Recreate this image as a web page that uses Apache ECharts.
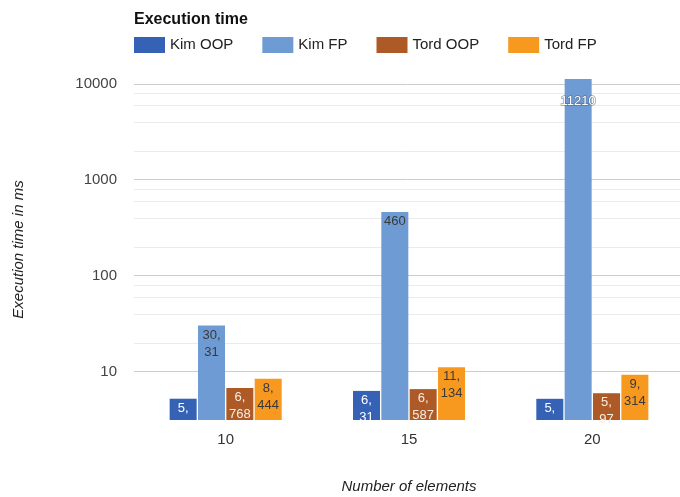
<!DOCTYPE html>
<html>
<head>
<meta charset="utf-8">
<script src="https://cdn.jsdelivr.net/npm/echarts@6/dist/echarts.min.js"></script>
<style>html,body{margin:0;padding:0;background:#fff;}#c{width:680px;height:497px;}</style>
</head>
<body>
<div id="c"></div>
<script>
const categories = ['10', '15', '20'];
const seriesNames = ['Kim OOP', 'Kim FP', 'Tord OOP', 'Tord FP'];
const kimOOP = [5.232, 6.31, 5.221];
const kimFP = [30.31, 460, 11210];
const tordOOP = [6.768, 6.587, 5.97];
const tordFP = [8.444, 11.134, 9.314];
const majorGrid = [10, 100, 1000, 10000];
const minorGrid = [20, 40, 60, 80, 200, 400, 600, 800, 2000, 4000, 6000, 8000];

const colors = ['#3562b4', '#6e9bd3', '#ad5a26', '#f7991f'];
const labelColors = ['#ffffff', '#3a3a3a', '#f6ece4', '#3a3a3a'];
const FONT = '"Liberation Sans", Arial, sans-serif';

const fmt = p => String(p.value).replace('.', ',\n');

const values = [kimOOP, kimFP, tordOOP, tordFP];
const gridLines = majorGrid.map(v => ({ yAxis: v, lineStyle: { color: '#cccccc', width: 1, type: 'solid' } }))
  .concat(minorGrid.map(v => ({ yAxis: v, lineStyle: { color: '#ebebeb', width: 1, type: 'solid' } })));

const series = values.map((arr, si) => {
  const s = {
    name: seriesNames[si],
    type: 'bar',
    barWidth: 27,
    barGap: '5%',
    itemStyle: { color: colors[si] },
    label: {
      show: true,
      position: 'insideTop',
      distance: 1,
      formatter: fmt,
      color: labelColors[si],
      fontFamily: FONT,
      fontSize: 13,
      lineHeight: 17
    },
    data: arr.map((v, i) => {
      if (si === 1 && i === 2) {
        return { value: v, label: { color: '#ffffff', textBorderColor: 'rgba(70,90,120,0.55)', textBorderWidth: 1.5, distance: 14 } };
      }
      return v;
    }),
    animation: false
  };
  if (si === 0) {
    s.markLine = {
      silent: true,
      z: 1,
      symbol: ['none', 'none'],
      label: { show: false },
      emphasis: { disabled: true },
      animation: false,
      data: gridLines
    };
  }
  return s;
});

const chart = echarts.init(document.getElementById('c'), null, { renderer: 'canvas' });
chart.setOption({
  backgroundColor: '#ffffff',
  animation: false,
  title: {
    text: 'Execution time',
    left: 129,
    top: 7,
    textStyle: { fontFamily: FONT, fontWeight: 'bold', fontSize: 16, color: '#111' }
  },
  legend: {
    left: 129,
    top: 32,
    itemWidth: 31,
    itemHeight: 16,
    itemGap: 29,
    icon: 'rect',
    selectedMode: false,
    textStyle: { fontFamily: FONT, fontSize: 15, color: '#222' },
    data: seriesNames
  },
  grid: { left: 134, right: -4, top: 79, bottom: 77, containLabel: false, outerBoundsMode: 'none' },
  xAxis: {
    type: 'category',
    data: categories,
    axisLine: { show: false },
    axisTick: { show: false },
    axisLabel: { fontFamily: FONT, fontSize: 15, color: '#333', margin: 12 },
    name: 'Number of elements',
    nameLocation: 'middle',
    nameGap: 59,
    nameTextStyle: { fontFamily: FONT, fontSize: 15, fontStyle: 'italic', color: '#222' }
  },
  yAxis: {
    type: 'log',
    logBase: 10,
    min: 3.14,
    max: 11210,
    axisLine: { show: false },
    axisTick: { show: false },
    splitLine: { show: false },
    axisLabel: {
      fontFamily: FONT, fontSize: 15, color: '#444', margin: 17,
      showMinLabel: false, showMaxLabel: false,
      formatter: v => String(Math.round(v))
    },
    name: 'Execution time in ms',
    nameLocation: 'middle',
    nameGap: 108,
    nameRotate: 90,
    nameTextStyle: { fontFamily: FONT, fontSize: 15, fontStyle: 'italic', color: '#222' }
  },
  series: series
});
</script>
</body>
</html>
